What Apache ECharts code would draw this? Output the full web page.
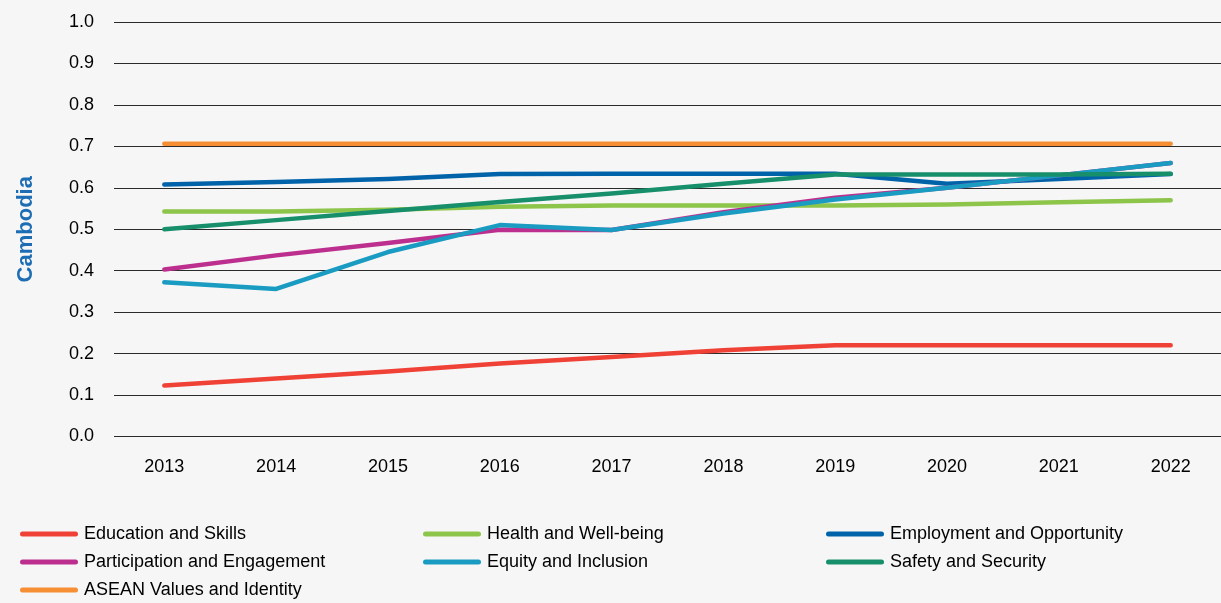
<!DOCTYPE html>
<html>
<head>
<meta charset="utf-8">
<script src="https://cdn.jsdelivr.net/npm/echarts@6/dist/echarts.min.js"></script>
<style>
  html, body { margin: 0; padding: 0; background: #f6f6f6; }
  #chart { width: 1221px; height: 603px; }
</style>
</head>
<body>
<div id="chart"></div>
<script>
const years = [2013, 2014, 2015, 2016, 2017, 2018, 2019, 2020, 2021, 2022]

const educationSkills = [0.123, 0.140, 0.157, 0.176, 0.192, 0.208, 0.220, 0.220, 0.220, 0.220]
const healthWellbeing = [0.543, 0.543, 0.547, 0.554, 0.557, 0.557, 0.557, 0.560, 0.565, 0.570]
const employmentOpportunity = [0.608, 0.614, 0.621, 0.633, 0.634, 0.634, 0.634, 0.610, 0.621, 0.633]
const participationEngagement = [0.403, 0.437, 0.467, 0.499, 0.498, 0.541, 0.576, 0.600, 0.630, 0.660]
const equityInclusion = [0.372, 0.356, 0.445, 0.510, 0.498, 0.538, 0.572, 0.600, 0.630, 0.660]
const safetySecurity = [0.500, 0.522, 0.544, 0.566, 0.586, 0.610, 0.632, 0.632, 0.632, 0.634]
const aseanValues = [0.706, 0.706, 0.706, 0.706, 0.706, 0.706, 0.706, 0.706, 0.706, 0.706]

const seriesDefs = [
  { name: 'Education and Skills', data: educationSkills, color: '#ef4136' },
  { name: 'Health and Well-being', data: healthWellbeing, color: '#8dc44a' },
  { name: 'Employment and Opportunity', data: employmentOpportunity, color: '#0063a9' },
  { name: 'Participation and Engagement', data: participationEngagement, color: '#bd2f8e' },
  { name: 'Equity and Inclusion', data: equityInclusion, color: '#1a9bc2' },
  { name: 'Safety and Security', data: safetySecurity, color: '#178f6b' },
  { name: 'ASEAN Values and Identity', data: aseanValues, color: '#f68e33' }
]

// three legend columns, as in the source layout
const legendColumns = [
  { left: 20, names: ['Education and Skills', 'Participation and Engagement', 'ASEAN Values and Identity'] },
  { left: 423, names: ['Health and Well-being', 'Equity and Inclusion'] },
  { left: 826, names: ['Employment and Opportunity', 'Safety and Security'] }
]

const font = '"Liberation Sans", Arial, Helvetica, sans-serif'
const lineIcon = 'path://M2.5,0 L55.5,0 A2.5,2.5 0 0 1 55.5,5 L2.5,5 A2.5,2.5 0 0 1 2.5,0 Z'

const chart = echarts.init(document.getElementById('chart'))

chart.setOption({
  backgroundColor: '#f6f6f6',
  animation: false,
  textStyle: { fontFamily: font },
  grid: { left: 114, right: 0, top: 22, bottom: 166.5, containLabel: false },
  legend: legendColumns.map(col => ({
    data: col.names,
    orient: 'vertical',
    left: col.left,
    top: 525,
    height: 120,
    padding: 0,
    itemWidth: 58,
    itemHeight: 5,
    itemGap: 10,
    icon: lineIcon,
    textStyle: { fontSize: 18, color: '#000', fontFamily: font, lineHeight: 18, padding: [0, 0, 0, 1] }
  })),
  xAxis: {
    type: 'value',
    min: 2012.55,
    max: 2022.45,
    axisLine: { show: false },
    axisTick: { show: false },
    splitLine: { show: false },
    axisLabel: {
      customValues: years,
      margin: 22,
      fontSize: 18,
      color: '#000',
      fontFamily: font,
      formatter: v => String(Math.round(v))
    }
  },
  yAxis: {
    type: 'value',
    min: 0,
    max: 1,
    interval: 0.1,
    name: 'Cambodia',
    nameLocation: 'middle',
    nameGap: 77,
    nameTextStyle: { fontSize: 22, fontWeight: 'bold', color: '#1c6db4', fontFamily: font },
    axisLine: { show: false },
    axisTick: { show: false },
    axisLabel: {
      margin: 20,
      fontSize: 18,
      color: '#000',
      fontFamily: font,
      formatter: v => v.toFixed(1)
    },
    splitLine: { lineStyle: { color: '#2a2a2a', width: 1.2 } }
  },
  series: seriesDefs.map(s => ({
    name: s.name,
    type: 'line',
    data: years.map((y, i) => [y, s.data[i]]),
    showSymbol: false,
    symbol: 'none',
    itemStyle: { color: s.color },
    lineStyle: { color: s.color, width: 4.5, cap: 'round', join: 'round' },
    emphasis: { disabled: true }
  }))
})
</script>
</body>
</html>
